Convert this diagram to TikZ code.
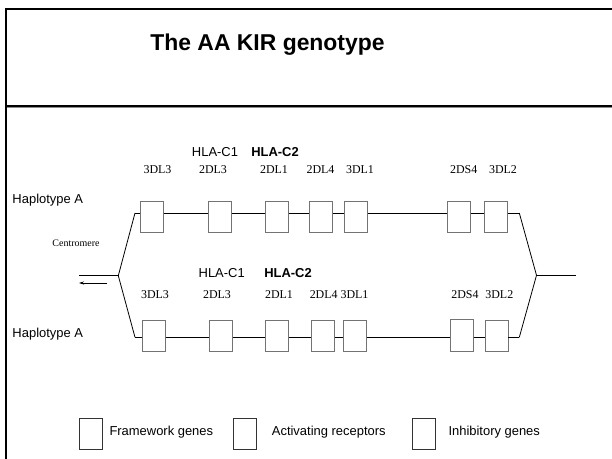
\documentclass[tikz,border=0pt]{standalone}
\usepackage{fontspec}
\setmainfont{Liberation Serif}
\setsansfont{Liberation Sans}
\usetikzlibrary{arrows.meta}
\begin{document}
\begin{tikzpicture}[x=1bp,y=-1bp,
  gene/.style={draw=black!55, line width=0.9bp, minimum width=23bp, minimum height=31bp, inner sep=0pt},
  key/.style={draw=black!80, line width=0.8bp, minimum width=23bp, minimum height=31bp, inner sep=0pt},
  chrom/.style={line width=0.8bp, black},
  genelbl/.style={font=\fontsize{12}{14}\selectfont, inner sep=0pt, anchor=base},
  hla/.style={font=\sffamily\fontsize{13}{15}\selectfont, inner sep=0pt, anchor=base},
  hlab/.style={font=\sffamily\bfseries\fontsize{13}{15}\selectfont, inner sep=0pt, anchor=base},
  side/.style={font=\sffamily\fontsize{13}{15}\selectfont, inner sep=0pt, anchor=base west},
  keylbl/.style={font=\sffamily\fontsize{13}{15}\selectfont, inner sep=0pt, anchor=base west},
  frame/.style={line width=2bp, black}]
\useasboundingbox (0,0) rectangle (612,459);
\fill[white] (0,0) rectangle (612,459);

% slide frame and title bar
\draw[black!45, line width=1bp] (7,107.8) -- (612,107.8);
\draw[frame] (5.5,459) -- (5.5,9) -- (612,9);
\draw[frame] (5.5,106.5) -- (612,106.5);
\node[font=\sffamily\bfseries\fontsize{23}{27}\selectfont, inner sep=0pt, anchor=base] (title) at (267.5,51) {The AA KIR genotype};

% ---- upper haplotype ----
\coordinate (tl) at (135,213);
\coordinate (tr) at (519.3,213);
\node[gene] (a1) at (152.3,216.5) {};
\node[gene] (a2) at (220,216.5) {};
\node[gene] (a3) at (277,216.5) {};
\node[gene] (a4) at (321.2,216.5) {};
\node[gene] (a5) at (355.7,216.5) {};
\node[gene] (a6) at (459,216.5) {};
\node[gene] (a7) at (496.3,216.5) {};
\draw[chrom] (tl) -- (tl -| a1.west);
\draw[chrom] (tl -| a1.east) -- (tl -| a2.west);
\draw[chrom] (tl -| a2.east) -- (tl -| a3.west);
\draw[chrom] (tl -| a3.east) -- (tl -| a4.west);
\draw[chrom] (tl -| a4.east) -- (tl -| a5.west);
\draw[chrom] (tl -| a5.east) -- (tl -| a6.west);
\draw[chrom] (tl -| a6.east) -- (tl -| a7.west);
\draw[chrom] (tl -| a7.east) -- (tr);

\node[hla]  (ac1) at (215,156.3) {HLA-C1};
\node[hlab] (ac2) at (275,156.3) {HLA-C2};
\node[genelbl] (la1) at (157.5,174) {3DL3};
\node[genelbl] (la2) at (213,174) {2DL3};
\node[genelbl] (la3) at (274,174) {2DL1};
\node[genelbl] (la4) at (320.5,174) {2DL4};
\node[genelbl] (la5) at (360,174) {3DL1};
\node[genelbl] (la6) at (463.7,174) {2DS4};
\node[genelbl] (la7) at (503,174) {3DL2};

% ---- lower haplotype ----
\coordinate (bl) at (135,337.3);
\coordinate (br) at (519.3,337.3);
\node[gene] (b1) at (153.7,336) {};
\node[gene] (b2) at (221.3,336) {};
\node[gene] (b3) at (277,336) {};
\node[gene] (b4) at (322.8,336) {};
\node[gene] (b5) at (354.7,336) {};
\node[gene, minimum height=32bp] (b6) at (462,335.2) {};
\node[gene] (b7) at (496.5,336) {};
\draw[chrom] (bl) -- (bl -| b1.west);
\draw[chrom] (bl -| b1.east) -- (bl -| b2.west);
\draw[chrom] (bl -| b2.east) -- (bl -| b3.west);
\draw[chrom] (bl -| b3.east) -- (bl -| b4.west);
\draw[chrom] (bl -| b4.east) -- (bl -| b5.west);
\draw[chrom] (bl -| b5.east) -- (bl -| b6.west);
\draw[chrom] (bl -| b6.east) -- (bl -| b7.west);
\draw[chrom] (bl -| b7.east) -- (br);

\node[hla]  (bc1) at (221.7,277.7) {HLA-C1};
\node[hlab] (bc2) at (288,277.7) {HLA-C2};
\node[genelbl] (lb1) at (155,298.3) {3DL3};
\node[genelbl] (lb2) at (217,298.3) {2DL3};
\node[genelbl] (lb3) at (279,298.3) {2DL1};
\node[genelbl] (lb4) at (323.7,298.3) {2DL4};
\node[genelbl] (lb5) at (354.5,298.3) {3DL1};
\node[genelbl] (lb6) at (465,298.3) {2DS4};
\node[genelbl] (lb7) at (499.3,298.3) {3DL2};

% ---- joins at both ends ----
\coordinate (lj) at (118.3,275.7);
\coordinate (lend) at (79,275.7);
\coordinate (rj) at (536.5,275.3);
\coordinate (rend) at (576,275.3);
\draw[chrom] (tl) -- (lj) -- (bl);
\draw[chrom] (lj) -- (lend);
\draw[chrom] (tr) -- (rj) -- (br);
\draw[chrom] (rj) -- (rend);

% direction arrow and centromere label
\coordinate (arS) at (107,283);
\coordinate (arE) at (79,283);
\draw[line width=0.6bp, -{Stealth[length=5bp,width=3bp]}] (arS) -- (arE);
\node[font=\fontsize{10}{12}\selectfont, inner sep=0pt, anchor=base] (cen) at (76,246.3) {Centromere};

% haplotype labels
\node[side] (hapA) at (12.3,203.5) {Haplotype A};
\node[side] (hapB) at (12.3,337) {Haplotype A};

% ---- legend ----
\node[key] (k1) at (90.7,433.8) {};
\node[key] (k2) at (245,433.8) {};
\node[key] (k3) at (424,433.8) {};
\node[keylbl] (t1) at (109.3,435.5) {Framework genes};
\node[keylbl] (t2) at (271.7,435.5) {Activating receptors};
\node[keylbl] (t3) at (448.3,435.5) {Inhibitory genes};
\end{tikzpicture}
\end{document}
